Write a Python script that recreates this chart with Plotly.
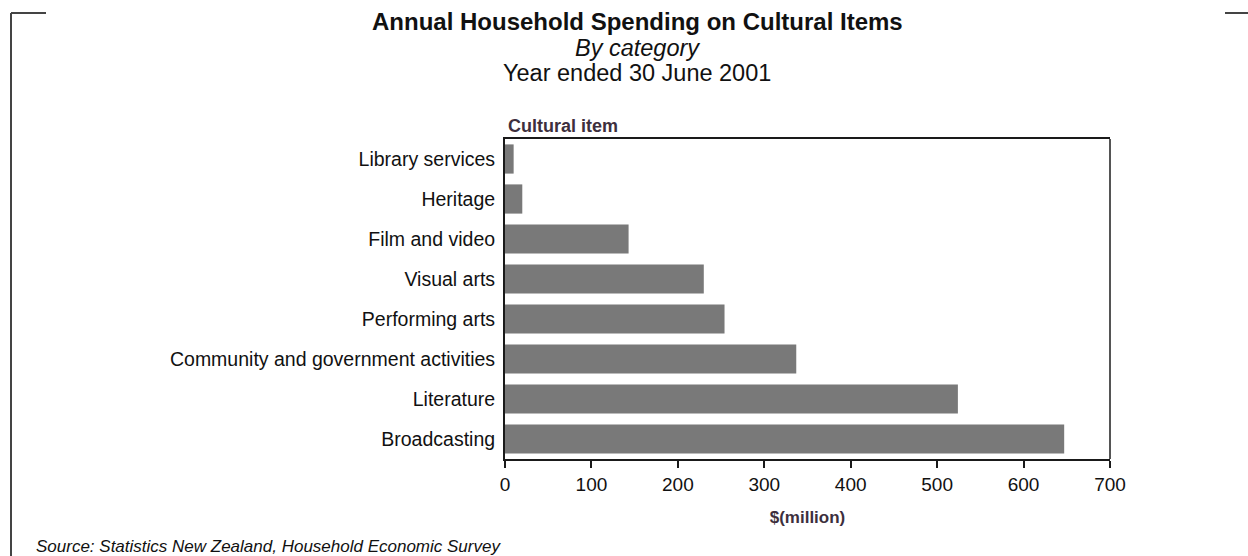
import plotly.graph_objects as go

# Spending by cultural category, year ended 30 June 2001 ($ million)
categories = [
    "Broadcasting",
    "Literature",
    "Community and government activities",
    "Performing arts",
    "Visual arts",
    "Film and video",
    "Heritage",
    "Library services",
]
spending = [647, 524, 337, 254, 230, 143, 20, 10]
x_ticks = [0, 100, 200, 300, 400, 500, 600, 700]

BAR = "#797979"
AXIS = "#1a1a1a"
LABEL = "#3d2f3d"
SANS = "Liberation Sans, Arial, sans-serif"

# plot area in pixels
L, R, T, B = 505, 1110, 139, 459
W, H = R - L, B - T


def px(xp, yp):
    """Pixel position -> paper coordinates."""
    return (xp - L) / W, (B - yp) / H


fig = go.Figure(
    go.Bar(
        x=spending,
        y=categories,
        orientation="h",
        marker=dict(color=BAR, line=dict(width=0)),
        hoverinfo="x+y",
    )
)

fig.update_layout(
    width=1248,
    height=556,
    margin=dict(l=L, r=1248 - R, t=T, b=556 - B),
    paper_bgcolor="white",
    plot_bgcolor="white",
    showlegend=False,
    bargap=0.27,
    font=dict(family=SANS, size=19, color="#111"),
)

fig.update_xaxes(
    range=[0, 700],
    tickvals=x_ticks,
    ticktext=[str(v) for v in x_ticks],
    ticks="outside",
    ticklen=7,
    tickwidth=1.5,
    tickcolor=AXIS,
    showline=True,
    linecolor=AXIS,
    linewidth=2,
    mirror=True,
    showgrid=False,
    zeroline=False,
    tickfont=dict(family=SANS, size=19, color="#111"),
    title=dict(text="<b>$(million)</b>", font=dict(family=SANS, size=17, color=LABEL), standoff=17),
)
fig.update_yaxes(
    categoryorder="array",
    categoryarray=categories,
    showline=True,
    linecolor=AXIS,
    linewidth=2,
    mirror=False,
    showgrid=False,
    zeroline=False,
    ticks="",
    ticklabelstandoff=4,
    tickfont=dict(family=SANS, size=19.5, color="#111"),
)

# right border of the plot box in a lighter grey
fig.add_shape(type="line", xref="paper", yref="paper", x0=1, x1=1, y0=0, y1=1,
              line=dict(color="#555", width=2))

headings = [
    ("<b>Annual Household Spending on Cultural Items</b>", 22, 24),
    ("<i>By category</i>", 48, 23.5),
    ("Year ended 30 June 2001", 73, 23.5),
]
for text, ypix, size in headings:
    xp, yp = px(637, ypix)
    fig.add_annotation(xref="paper", yref="paper", showarrow=False,
                       xanchor="center", yanchor="middle", x=xp, y=yp,
                       text=text, font=dict(family=SANS, size=size, color="#111"))

xp, yp = px(506, 126)
fig.add_annotation(xref="paper", yref="paper", showarrow=False,
                   xanchor="left", yanchor="middle", x=xp, y=yp,
                   text="<b>Cultural item</b>",
                   font=dict(family=SANS, size=18, color=LABEL))

xp, yp = px(34, 546)
fig.add_annotation(xref="paper", yref="paper", showarrow=False,
                   xanchor="left", yanchor="middle", x=xp, y=yp,
                   text="<i>Source: Statistics New Zealand, Household Economic Survey</i>",
                   font=dict(family=SANS, size=17, color="#111"))

# page frame corners
frame_segments = [((11, 13), (11, 560)), ((11, 13), (46, 13)), ((1225, 13), (1250, 13))]
for (xa, ya), (xb, yb) in frame_segments:
    x0, y0 = px(xa, ya)
    x1, y1 = px(xb, yb)
    fig.add_shape(type="line", xref="paper", yref="paper",
                  x0=x0, y0=y0, x1=x1, y1=y1, line=dict(color="#444", width=2))

fig.write_html("out.html")
